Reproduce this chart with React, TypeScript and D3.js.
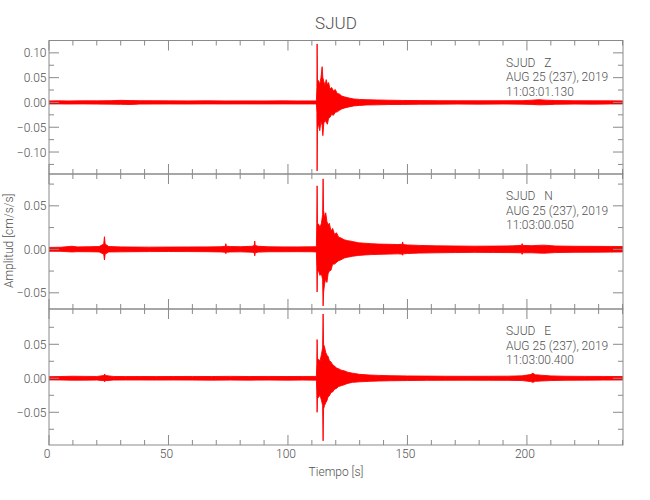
import React from 'react';
import * as d3 from 'd3';

// ---------- data ----------
const station = 'SJUD';
const dateLabel = 'AUG 25 (237), 2019';
const channels = ['Z', 'N', 'E'];
const startTimes = ['11:03:01.130', '11:03:00.050', '11:03:00.400'];

const xDomain = [0, 240.2];
const xMajorTicks = [0, 50, 100, 150, 200];
const xMinorTicks = [0, 10, 20, 30, 40, 50, 60, 70, 80, 90, 100, 110, 120, 130, 140, 150, 160, 170, 180, 190, 200, 210, 220, 230, 240];

const zDomain = [-0.1443, 0.1249];
const nDomain = [-0.0686, 0.0866];
const eDomain = [-0.0981, 0.1019];

const zMajorTicks = [-0.1, -0.05, 0, 0.05, 0.1];
const zMinorTicks = [-0.125, -0.075, -0.025, 0.025, 0.075];
const nMajorTicks = [-0.05, 0, 0.05];
const nMinorTicks = [-0.025, 0.025, 0.075];
const eMajorTicks = [-0.05, 0, 0.05];
const eMinorTicks = [-0.075, -0.025, 0.025, 0.075];

// envelope of each trace (time s, upper cm/s/s, lower cm/s/s)
const zTime = [0, 4, 8, 14, 20, 26, 30, 34, 38, 44, 50, 58, 66, 74, 82, 90, 98, 104, 110, 111.9, 112.1, 112.2, 112.35, 112.8, 113.3, 113.8, 114.3, 114.6, 115.0, 115.5, 116.0, 116.5, 117.0, 117.6, 118.3, 119.0, 119.8, 120.6, 121.5, 122.5, 123.8, 125.5, 127.5, 130, 133, 137, 142, 148, 155, 163, 171, 180, 190, 198, 202, 205, 208, 212, 220, 228, 235, 240];
const zUpper = [0.003, 0.0032, 0.003, 0.0033, 0.0032, 0.0036, 0.0042, 0.0038, 0.0035, 0.0034, 0.0032, 0.0031, 0.0033, 0.003, 0.0031, 0.003, 0.0032, 0.003, 0.0031, 0.003, 0.03, 0.118, 0.042, 0.044, 0.036, 0.05, 0.072, 0.05, 0.042, 0.034, 0.046, 0.036, 0.04, 0.027, 0.03, 0.023, 0.026, 0.018, 0.017, 0.013, 0.011, 0.009, 0.007, 0.006, 0.0055, 0.005, 0.0045, 0.004, 0.0037, 0.0035, 0.0034, 0.0033, 0.0034, 0.0036, 0.0045, 0.0055, 0.0045, 0.0038, 0.0034, 0.0033, 0.0032, 0.0031];
const zLower = [-0.003, -0.003, -0.0032, -0.003, -0.0033, -0.0034, -0.0038, -0.0042, -0.0033, -0.0032, -0.0031, -0.0032, -0.003, -0.0031, -0.003, -0.0031, -0.003, -0.0031, -0.003, -0.003, -0.02, -0.138, -0.055, -0.042, -0.057, -0.038, -0.046, -0.067, -0.042, -0.036, -0.04, -0.044, -0.032, -0.03, -0.024, -0.026, -0.02, -0.019, -0.016, -0.013, -0.011, -0.009, -0.007, -0.006, -0.005, -0.0048, -0.0042, -0.004, -0.0036, -0.0034, -0.0033, -0.0034, -0.0032, -0.0035, -0.004, -0.0048, -0.0045, -0.0037, -0.0033, -0.0034, -0.0031, -0.003];

const nTime = [0, 5, 9.5, 12, 17, 21, 22.9, 23.2, 23.5, 25, 30, 36, 42, 50, 58, 66, 72, 73.8, 74, 74.2, 76, 80, 85, 85.9, 86.1, 86.3, 87.5, 92, 98, 104, 110, 111.9, 112.05, 112.2, 112.35, 112.8, 113.4, 114.0, 114.5, 114.7, 114.9, 115.3, 115.8, 116.3, 116.8, 117.3, 118.0, 118.7, 119.5, 120.3, 121.2, 122.2, 123.5, 125, 127, 129.5, 132, 135, 138, 142, 146, 147.8, 148, 148.2, 150, 155, 162, 170, 178, 186, 194, 197.7, 198, 198.3, 202, 207, 212, 220, 228, 235, 240];
const nUpper = [0.0022, 0.0024, 0.0035, 0.0028, 0.003, 0.0032, 0.006, 0.0145, 0.006, 0.0032, 0.0028, 0.0026, 0.0025, 0.0026, 0.0027, 0.0028, 0.003, 0.0035, 0.0065, 0.0035, 0.0032, 0.003, 0.0035, 0.0045, 0.0095, 0.0045, 0.0035, 0.0029, 0.0028, 0.0028, 0.0029, 0.003, 0.03, 0.073, 0.03, 0.029, 0.025, 0.03, 0.04, 0.081, 0.045, 0.036, 0.042, 0.032, 0.028, 0.03, 0.021, 0.024, 0.017, 0.019, 0.014, 0.013, 0.011, 0.01, 0.009, 0.0075, 0.007, 0.0065, 0.006, 0.0058, 0.0055, 0.0058, 0.0085, 0.0055, 0.005, 0.0045, 0.004, 0.0038, 0.0036, 0.0037, 0.004, 0.0045, 0.0065, 0.0045, 0.0042, 0.0048, 0.0038, 0.0035, 0.0034, 0.0033, 0.0032];
const nLower = [-0.0022, -0.0023, -0.003, -0.0027, -0.0028, -0.003, -0.0055, -0.0123, -0.0055, -0.003, -0.0029, -0.0027, -0.0026, -0.0025, -0.0026, -0.0027, -0.003, -0.0033, -0.005, -0.0033, -0.003, -0.0029, -0.0033, -0.004, -0.0075, -0.004, -0.0032, -0.0028, -0.0028, -0.0027, -0.0028, -0.003, -0.02, -0.049, -0.025, -0.025, -0.03, -0.028, -0.035, -0.065, -0.05, -0.04, -0.034, -0.038, -0.028, -0.025, -0.024, -0.017, -0.017, -0.015, -0.013, -0.012, -0.01, -0.009, -0.008, -0.007, -0.0065, -0.006, -0.0058, -0.0055, -0.0052, -0.0055, -0.0068, -0.0052, -0.0048, -0.0043, -0.004, -0.0037, -0.0035, -0.0036, -0.0038, -0.004, -0.0058, -0.004, -0.004, -0.0045, -0.0037, -0.0034, -0.0033, -0.0032, -0.003];

const eTime = [0, 5, 10, 15, 20, 23.0, 23.3, 23.6, 27, 32, 38, 45, 52, 60, 68, 76, 84, 92, 100, 106, 111.9, 112.05, 112.2, 112.35, 112.8, 113.4, 114.0, 114.5, 114.7, 114.9, 115.3, 115.8, 116.3, 116.8, 117.3, 118.0, 118.7, 119.5, 120.3, 121.2, 122.2, 123.5, 125, 127, 130, 134, 138, 143, 150, 158, 166, 175, 184, 192, 198, 201.5, 202.5, 203.5, 206, 210, 216, 224, 232, 240];
const eUpper = [0.0024, 0.0026, 0.003, 0.0028, 0.0027, 0.004, 0.0063, 0.004, 0.0027, 0.0025, 0.0026, 0.0025, 0.0026, 0.0027, 0.0026, 0.0028, 0.0026, 0.0027, 0.0026, 0.0027, 0.0027, 0.02, 0.057, 0.028, 0.028, 0.025, 0.035, 0.045, 0.0946, 0.05, 0.046, 0.038, 0.034, 0.032, 0.026, 0.024, 0.02, 0.018, 0.015, 0.014, 0.012, 0.011, 0.009, 0.0075, 0.0058, 0.0048, 0.0042, 0.0038, 0.0034, 0.0032, 0.003, 0.0029, 0.003, 0.0031, 0.0036, 0.0055, 0.0073, 0.0052, 0.0045, 0.0035, 0.003, 0.0028, 0.0027, 0.0026];
const eLower = [-0.0024, -0.0025, -0.0028, -0.0027, -0.0026, -0.0035, -0.005, -0.0035, -0.0026, -0.0025, -0.0025, -0.0026, -0.0025, -0.0026, -0.0027, -0.0026, -0.0027, -0.0026, -0.0027, -0.0026, -0.0027, -0.02, -0.05, -0.03, -0.028, -0.025, -0.032, -0.04, -0.092, -0.045, -0.04, -0.036, -0.033, -0.027, -0.026, -0.021, -0.02, -0.016, -0.015, -0.012, -0.011, -0.0095, -0.0075, -0.006, -0.0052, -0.0045, -0.004, -0.0036, -0.0033, -0.003, -0.0029, -0.0028, -0.0029, -0.003, -0.0033, -0.0048, -0.006, -0.0045, -0.004, -0.0033, -0.0029, -0.0027, -0.0026, -0.0025];

// ---------- layout ----------
const W = 650;
const H = 500;
const LEFT = 49;
const RIGHT = 623;
const panelTops = [40.5, 174, 309];
const panelBottoms = [174, 309, 445];
const FONT = "Roboto, 'Liberation Sans', sans-serif";
const AXIS = '#8a8a8a';
const TEXT = '#505050';
const TRACE = '#ff0000';
const FS = 12;

const fmt = (v: number) => (v < 0 ? '\u2212' : '') + Math.abs(v).toFixed(2);

type PanelSpec = {
  domain: number[];
  major: number[];
  minor: number[];
  time: number[];
  upper: number[];
  lower: number[];
};

const panels: PanelSpec[] = [
  { domain: zDomain, major: zMajorTicks, minor: zMinorTicks, time: zTime, upper: zUpper, lower: zLower },
  { domain: nDomain, major: nMajorTicks, minor: nMinorTicks, time: nTime, upper: nUpper, lower: nLower },
  { domain: eDomain, major: eMajorTicks, minor: eMinorTicks, time: eTime, upper: eUpper, lower: eLower },
];

export default function App() {
  const x = d3.scaleLinear().domain(xDomain).range([LEFT, RIGHT]);

  return (
    <svg width={W} height={H} style={{ position: 'absolute', left: 0, top: 0, background: '#fff' }} fontFamily={FONT} fontWeight={300}>
      <rect x={0} y={0} width={W} height={H} fill="#fff" />
      <text x={(LEFT + RIGHT) / 2} y={29} textAnchor="middle" fontSize={17} fill={TEXT}>{station}</text>

      {panels.map((p, pi) => {
        const top = panelTops[pi];
        const bottom = panelBottoms[pi];
        const y = d3.scaleLinear().domain(p.domain).range([bottom, top]);
        const idx = d3.range(p.time.length);
        const area = d3
          .area<number>()
          .x((i) => x(p.time[i]))
          .y0((i) => y(p.lower[i]))
          .y1((i) => y(p.upper[i]));
        const clipId = `clip${pi}`;
        const inY = (v: number) => y(v) > top + 0.5 && y(v) < bottom - 0.5;
        return (
          <g key={pi}>
            <clipPath id={clipId}>
              <rect x={LEFT} y={top} width={RIGHT - LEFT} height={bottom - top} />
            </clipPath>
            <g clipPath={`url(#${clipId})`}>
              <path d={area(idx) || ''} fill={TRACE} stroke={TRACE} strokeWidth={0.9} strokeLinejoin="round" />
            </g>
            <rect x={LEFT} y={top} width={RIGHT - LEFT} height={bottom - top} fill="none" stroke={AXIS} strokeWidth={1} />
            {xMinorTicks.map((t) => {
              const len = xMajorTicks.includes(t) ? 10 : 5;
              return (
                <g key={`xt${t}`} stroke={AXIS} strokeWidth={1}>
                  <line x1={x(t)} x2={x(t)} y1={top} y2={top + len} />
                  <line x1={x(t)} x2={x(t)} y1={bottom} y2={bottom - len} />
                </g>
              );
            })}
            {[...p.major, ...p.minor].filter(inY).map((v) => {
              const len = p.major.includes(v) ? 10 : 5;
              return (
                <g key={`yt${v}`} stroke={AXIS} strokeWidth={1}>
                  <line x1={LEFT} x2={LEFT + len} y1={y(v)} y2={y(v)} />
                  <line x1={RIGHT} x2={RIGHT - len} y1={y(v)} y2={y(v)} />
                </g>
              );
            })}
            {p.major.map((v) => (
              <text key={`yl${v}`} x={LEFT - 2.5} y={y(v) + 4.5} textAnchor="end" fontSize={FS} fill={TEXT}>
                {fmt(v)}
              </text>
            ))}
            <text x={506} y={top + 26} fontSize={FS} fill={TEXT} style={{ whiteSpace: 'pre' }}>
              {`${station}   ${channels[pi]}`}
            </text>
            <text x={506} y={top + 40.5} fontSize={FS} fill={TEXT}>{dateLabel}</text>
            <text x={506} y={top + 55} fontSize={FS} fill={TEXT}>{startTimes[pi]}</text>
          </g>
        );
      })}

      {xMajorTicks.map((t) => (
        <text key={`xl${t}`} x={x(t) - 2} y={458} textAnchor="middle" fontSize={FS} fill={TEXT}>
          {t}
        </text>
      ))}
      <text x={(LEFT + RIGHT) / 2} y={476} textAnchor="middle" fontSize={FS} fill={TEXT}>Tiempo [s]</text>
      <text
        transform={`translate(13, ${(panelTops[0] + panelBottoms[2]) / 2 - 2}) rotate(-90)`}
        textAnchor="middle"
        fontSize={FS}
        fill={TEXT}
      >
        Amplitud [cm/s/s]
      </text>
    </svg>
  );
}
